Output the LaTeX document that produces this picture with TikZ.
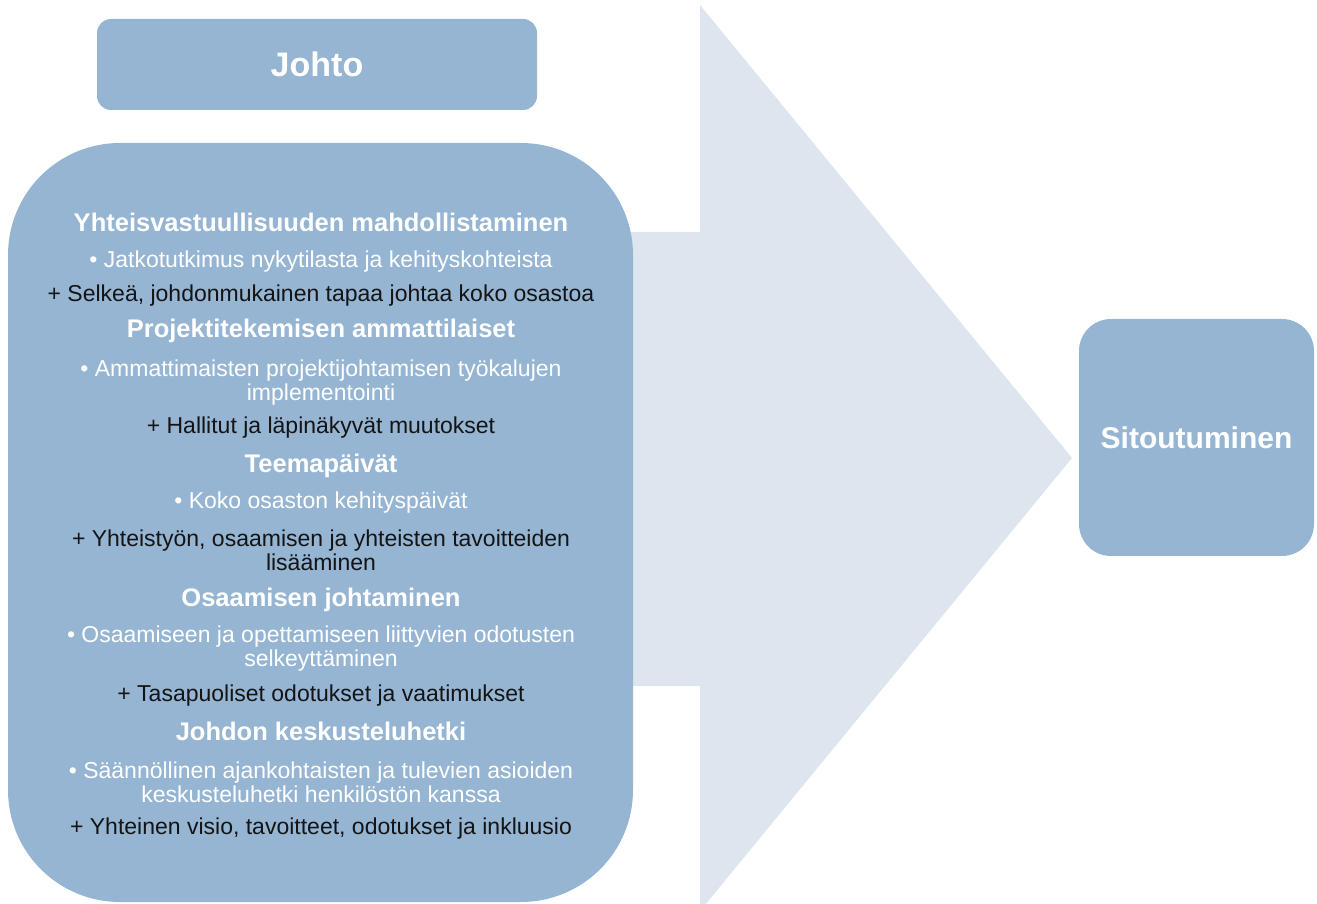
\documentclass[tikz,border=0pt]{standalone}
\usepackage{fontspec}
\setmainfont{Liberation Sans}
\usepackage{xcolor}
\definecolor{boxblue}{RGB}{149, 181, 211}
\definecolor{palegrey}{RGB}{221, 229, 238}
\definecolor{inkdark}{RGB}{ 20,  20,  20}
\usepackage{tikz}
\usetikzlibrary{positioning}

\tikzset{
  card/.style={fill=boxblue, inner sep=0pt, text=white},
  headline/.style={text=white, font=\bfseries\fontsize{25.5}{28}\selectfont},
  bulletline/.style={text=white, align=center, font=\fontsize{23}{24}\selectfont},
  plusline/.style={text=inkdark, align=center, font=\fontsize{23}{24}\selectfont}
}

\begin{document}
\begin{tikzpicture}[x=1pt, y=1pt]
    \useasboundingbox (0,0) rectangle (1317,903);

    % big arrow behind the panel
    \fill[palegrey] (600,671) -- (700,671) -- (700,898) -- (1072,445)
      -- (700,-8) -- (700,217) -- (600,217) -- cycle;

    % boxes
    \node[card, rounded corners=14pt, minimum width=440pt, minimum height=91pt,
      font=\bfseries\fontsize{34}{38}\selectfont] (johto) at (317,838.5) {Johto};
    \node[card, rounded corners=112pt, minimum width=625pt, minimum height=759pt] (keinot) at (320.5,380.5) {};
    \node[card, rounded corners=32pt, minimum width=235pt, minimum height=237pt,
      font=\bfseries\fontsize{30}{34}\selectfont] (sitoutuminen) at (1196.5,465.5) {Sitoutuminen};

    % panel text
    \node[headline] (h1) at (321,681) {Yhteisvastuullisuuden mahdollistaminen};
    \node[bulletline] (b1) at (321,641) {• Jatkotutkimus nykytilasta ja kehityskohteista};
    \node[plusline] (p1) at (321,607) {+ Selkeä, johdonmukainen tapaa johtaa koko osastoa};

    \node[headline] (h2) at (321,572) {Projektitekemisen ammattilaiset};
    \node[bulletline] (b2) at (321,520.5) {• Ammattimaisten projektijohtamisen työkalujen\\implementointi};
    \node[plusline] (p2) at (321,475) {+ Hallitut ja läpinäkyvät muutokset};

    \node[headline] (h3) at (321,437) {Teemapäivät};
    \node[bulletline] (b3) at (321,400) {• Koko osaston kehityspäivät};
    \node[plusline] (p3) at (321,353) {+ Yhteistyön, osaamisen ja yhteisten tavoitteiden\\lisääminen};

    \node[headline] (h4) at (321,303) {Osaamisen johtaminen};
    \node[bulletline] (b4) at (321,254) {• Osaamiseen ja opettamiseen liittyvien odotusten\\selkeyttäminen};
    \node[plusline] (p4) at (321,207) {+ Tasapuoliset odotukset ja vaatimukset};

    \node[headline] (h5) at (321,172) {Johdon keskusteluhetki};
    \node[bulletline] (b5) at (321,121) {• Säännöllinen ajankohtaisten ja tulevien asioiden\\keskusteluhetki henkilöstön kanssa};
    \node[plusline] (p5) at (321,74) {+ Yhteinen visio, tavoitteet, odotukset ja inkluusio};
  \end{tikzpicture}
\end{document}
